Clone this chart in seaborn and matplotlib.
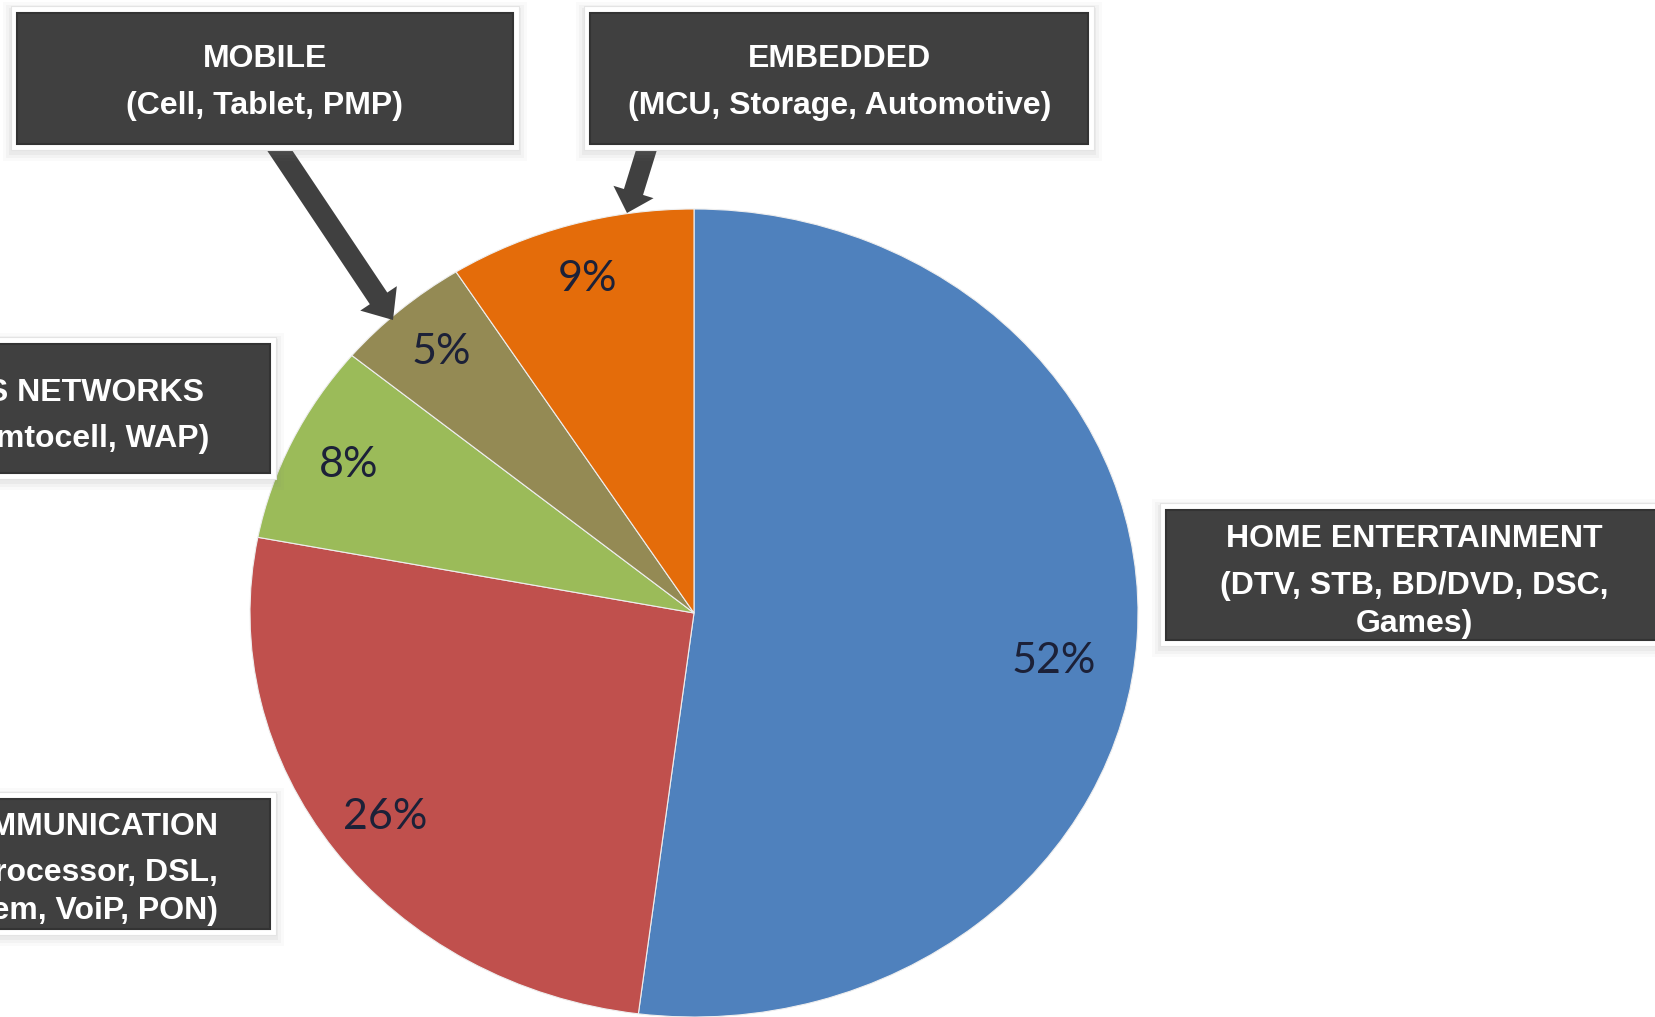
import matplotlib.pyplot as plt
import seaborn as sns
from matplotlib.patches import Rectangle, FancyArrow

# slice values, clockwise from 12 o'clock
segments = ['Home Entertainment', 'Communication', 'Wireless Networks', 'Mobile', 'Embedded']
shares = [52, 26, 8, 5, 9]
colors = ['#4F81BD', '#C0504D', '#9BBB59', '#948A54', '#E46C0A']

# callout texts
box_mobile = ['MOBILE', '(Cell, Tablet, PMP)']
box_embedded = ['EMBEDDED', '(MCU, Storage, Automotive)']
box_wireless = ['WIRELESS NETWORKS', '(Basestation, Femtocell, WAP)']
box_comm = ['WIRED COMMUNICATION', '(Network Processor, DSL,', 'Cable Modem, VoiP, PON)']
box_home = ['HOME ENTERTAINMENT', '(DTV, STB, BD/DVD, DSC,', 'Games)']

W, H = 1656, 1017
sns.set_theme(style='white')
plt.rcParams['font.family'] = ['Liberation Sans', 'DejaVu Sans']

fig = plt.figure(figsize=(W / 100, H / 100), dpi=100)
fig.patch.set_facecolor('white')

# pie axes (stretched, so the pie is a slight ellipse like the original)
cx, cy, rx, ry = 694, 613, 444, 404
ax = fig.add_axes([(cx - rx) / W, (H - cy - ry) / H, 2 * rx / W, 2 * ry / H])
wedges, texts, autotexts = ax.pie(
    shares, colors=sns.color_palette(colors), startangle=90, counterclock=False,
    autopct='%d%%', pctdistance=0.86,
    wedgeprops=dict(edgecolor='#eeeeee', linewidth=0.8),
    textprops=dict(fontsize=31, color='#1c2138', family='Lato'),
)
ax.set_aspect('auto')
ax.set_xlim(-1, 1)
ax.set_ylim(-1, 1)
ax.axis('off')
for w in wedges:
    w.set_clip_on(False)
# the big label sits a little lower in the original
autotexts[0].set_position((0.81, -0.12))

# overlay in pixel coordinates for the callouts
ov = fig.add_axes([0, 0, 1, 1])
ov.set_xlim(0, W)
ov.set_ylim(H, 0)
ov.axis('off')

dark = '#404040'

# arrows
ov.add_patch(FancyArrow(276, 145, 393 - 276, 320 - 145, width=21, head_width=44,
                        head_length=26, length_includes_head=True, color=dark, lw=0))
ov.add_patch(FancyArrow(648, 145, 627 - 648, 213 - 145, width=20, head_width=42,
                        head_length=22, length_includes_head=True, color=dark, lw=0))


def callout(x0, y0, x1, y1):
    for k, a in [(14, 0.04), (11, 0.05), (8, 0.07)]:
        ov.add_patch(Rectangle((x0 - k, y0 - k + 3), x1 - x0 + 2 * k, y1 - y0 + 2 * k,
                               color='#808080', alpha=a, lw=0))
    ov.add_patch(Rectangle((x0 - 6, y0 - 7), x1 - x0 + 12, y1 - y0 + 13,
                           facecolor='white', edgecolor='#e4e4e4', lw=0.8))
    ov.add_patch(Rectangle((x0, y0), x1 - x0, y1 - y0, facecolor=dark,
                           edgecolor='#333333', lw=1.5))


def write(lines, x, ys, ha='center'):
    for s, y in zip(lines, ys):
        ov.text(x, y, s, ha=ha, va='center', color='white', fontsize=23,
                fontweight='bold')


callout(17, 13, 513, 144)
write(box_mobile, 265, [59, 106])

callout(590, 13, 1088, 144)
write(box_embedded, 840, [59, 106])

callout(-300, 344, 270, 473)
write(box_wireless[:1], 204, [393], ha='right')
write(box_wireless[1:], 209, [439], ha='right')

callout(-300, 799, 270, 929)
write(box_comm, 218, [827, 873, 911], ha='right')

callout(1166, 510, 1900, 640)
write(box_home, 1414, [539, 586, 624])

fig.savefig('out.png', dpi=100, facecolor='white')
